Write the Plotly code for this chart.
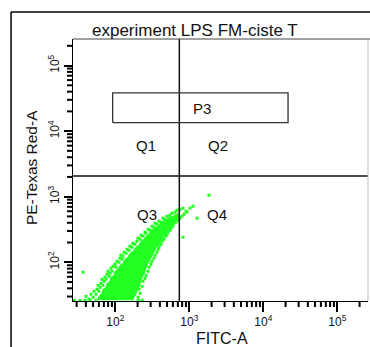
import math
import plotly.graph_objects as go

# ---- Gates -------------------------------------------------------------
quad_fitc = 733          # quadrant split on FITC-A
quad_pe = 2070           # quadrant split on PE-Texas Red-A
p3_fitc = [92, 21600]    # P3 rectangle, FITC-A bounds
p3_pe = [13500, 38300]   # P3 rectangle, PE-Texas Red-A bounds

# ---- Axes (log display, 2^18 full scale) -----------------------------
x_range_log = [1.428, 5.415]
y_range_log = [1.409, 5.405]
tick_vals = [100, 1000, 10000, 100000]
tick_text = ["10<sup>2</sup>", "10<sup>3</sup>", "10<sup>4</sup>", "10<sup>5</sup>"]
minor_tick_vals = [m * 10 ** e for e in range(1, 6) for m in range(2, 10)]

# ---- Events ------------------------------------------------------------
# outline of the saturated high-density core of the population
core_fitc = [58.4, 60.2, 66.1, 68.2, 74.9, 77.3, 84.8, 87.5, 96.0, 99.1, 109,
             116, 127, 135, 148, 158, 173, 190, 209, 223, 244, 260, 285, 303,
             333, 366, 402, 441, 484, 531, 602, 661, 703,
             725, 682, 641, 602, 565, 548, 499, 484, 441, 428, 402, 390, 355,
             344, 323, 313, 294, 285, 268, 260, 252, 244, 230, 223, 216, 209,
             196, 190, 179, 173]
core_pe = [26.3, 30.3, 33.6, 38.7, 41.5, 47.8, 51.3, 59.0, 63.3, 72.9, 78.2,
           90.0, 96.5, 111, 119, 137, 147, 169.5, 182, 209, 224, 249.5, 267.5,
           308, 319, 354.5, 380, 422.5, 437.5, 486, 503.5, 540, 560,
           503.5, 453, 422.5, 380, 354.5, 319, 297.5, 267.5, 249.5, 224, 202,
           182, 169.5, 152.5, 137, 123.5, 111, 100, 90.0, 81.0, 72.9, 65.6,
           59.0, 53.1, 46.2, 41.5, 37.4, 32.5, 29.2, 26.3]

# individual events around the core
fitc_events = [
    # upper-left edge of the population
    40.2, 44.1, 46.9, 50.0, 51.5, 54.8, 56.6, 60.2, 58.4, 62.1, 64.1, 68.2,
    66.1, 70.4, 72.6, 74.9, 77.3, 82.2, 79.7, 84.8, 87.5, 90.2, 93.1, 99.1,
    102, 105, 112, 116, 123, 119, 127, 131, 140, 144, 153, 158,
    168, 173, 185, 196, 203, 216, 223, 237, 252, 260, 277, 294,
    313, 333, 344, 366, 390, 415, 441, 469, 499, 548, 583, 641,
    682, 748, 821,
    # lower-right edge
    203, 216, 209, 230, 237, 252, 260, 277, 285, 303, 313, 333,
    344, 366, 378, 390, 415, 428, 455, 469, 499, 515, 548, 565,
    602, 621, 661, 703, 748, 796, 847, 930,
    # off-scale low and scattered outliers
    27.7, 33.3, 39.0, 45.5, 54.8, 203, 230, 36.6,
    821, 1120, 1274, 1840, 1021, 902,
]
pe_events = [
    30.3, 27.2, 32.5, 29.2, 36.1, 32.5, 38.7, 36.1, 44.6, 41.5, 47.8, 44.6,
    55.0, 51.3, 59.0, 55.0, 65.6, 61.1, 72.9, 67.9, 81.0, 72.9, 86.9, 93.2,
    83.9, 103.6, 100, 115, 111, 128, 123.5, 142, 137, 158, 152.5, 175.5,
    169.5, 195, 188, 209, 232.5, 224, 258, 249.5, 287, 277, 319, 308,
    354.5, 342.5, 394, 380, 422.5, 408, 469.5, 453, 503.5, 522, 560, 580,
    622, 644, 667,
    29.2, 33.6, 38.7, 43.0, 51.3, 57.0, 63.3, 72.9, 83.9, 93.2, 103.6, 115,
    128, 142, 158, 169.5, 188, 209, 224, 249.5, 258, 287, 308, 330.5,
    354.5, 394, 408, 437.5, 469.5, 503.5, 540, 580,
    26.3, 26.3, 26.3, 26.3, 26.3, 26.3, 26.3, 70.4,
    241, 716, 469.5, 1054, 667, 601,
]

GREEN = "#22ff22"
INK = "#111111"
TICK = "#000000"
FONT = "Liberation Sans"

WIDTH, HEIGHT = 370, 347
MARGIN = dict(l=73, r=2, t=39, b=46)
plot_w = WIDTH - MARGIN["l"] - MARGIN["r"]
plot_h = HEIGHT - MARGIN["t"] - MARGIN["b"]

x_lo, x_hi = 10 ** x_range_log[0], 10 ** x_range_log[1]
y_lo, y_hi = 10 ** y_range_log[0], 10 ** y_range_log[1]

fig = go.Figure()

fig.add_trace(go.Scatter(
    x=core_fitc, y=core_pe, mode="lines", fill="toself",
    fillcolor=GREEN, line=dict(color=GREEN, width=1), hoverinfo="skip",
))
fig.add_trace(go.Scatter(
    x=fitc_events, y=pe_events, mode="markers",
    marker=dict(symbol="square", size=3, color=GREEN, line=dict(width=0)),
))

# quadrant lines
fig.add_trace(go.Scatter(
    x=[quad_fitc, quad_fitc], y=[y_lo, y_hi], mode="lines",
    line=dict(color=INK, width=1.5), hoverinfo="skip",
))
fig.add_trace(go.Scatter(
    x=[x_lo, x_hi], y=[quad_pe, quad_pe], mode="lines",
    line=dict(color=INK, width=1.5), hoverinfo="skip",
))
# P3 rectangle gate
fig.add_trace(go.Scatter(
    x=[p3_fitc[0], p3_fitc[1], p3_fitc[1], p3_fitc[0], p3_fitc[0]],
    y=[p3_pe[0], p3_pe[0], p3_pe[1], p3_pe[1], p3_pe[0]],
    mode="lines", line=dict(color="#333333", width=1.3), hoverinfo="skip",
))

# decade ticks come from the axes; 2..9 multiples are added as shapes below
axis_common = dict(
    type="log", showgrid=False, zeroline=False,
    showline=True, linecolor="black", linewidth=1,
    ticks="outside", tickcolor=TICK, tickwidth=2,
    tickmode="array", tickvals=tick_vals, ticktext=tick_text,
    tickfont=dict(family=FONT, size=12, color=INK),
)
fig.update_xaxes(range=x_range_log, ticklen=10, **axis_common)
fig.update_yaxes(range=y_range_log, ticklen=8, tickangle=-90, **axis_common)


def frac(value, rng):
    return (math.log10(value) - rng[0]) / (rng[1] - rng[0])


shapes = [
    # outer frame (top and left edges)
    dict(type="line", xref="paper", yref="paper", x0=-0.21, x1=1.1, y0=1.103, y1=1.103,
         line=dict(color="black", width=1.5)),
    dict(type="line", xref="paper", yref="paper", x0=-0.21, x1=-0.21, y0=1.103, y1=-0.2,
         line=dict(color="black", width=1.5)),
    # plot box top and right edges
    dict(type="line", xref="paper", yref="paper", x0=0, x1=1.01, y0=1, y1=1,
         line=dict(color="#444444", width=1)),
    dict(type="line", xref="paper", yref="paper", x0=1, x1=1, y0=1, y1=0,
         line=dict(color="#bbbbbb", width=1)),
]

# minor tick marks at 2..9 multiples of each decade
for v in minor_tick_vals:
    fx = frac(v, x_range_log)
    if 0 <= fx <= 1:
        shapes.append(dict(type="line", xref="paper", yref="paper",
                           x0=fx, x1=fx, y0=0, y1=-6 / plot_h,
                           line=dict(color=TICK, width=2)))
    fy = frac(v, y_range_log)
    if 0 <= fy <= 1:
        shapes.append(dict(type="line", xref="paper", yref="paper",
                           x0=0, x1=-6 / plot_w, y0=fy, y1=fy,
                           line=dict(color=TICK, width=2)))


def label(text, x, y, size=15, angle=0):
    return dict(text=text, x=x, y=y, xref="paper", yref="paper",
                xanchor="center", yanchor="middle", showarrow=False,
                textangle=angle, font=dict(family=FONT, size=size, color=INK))


annotations = [
    label("experiment LPS FM-ciste T", 0.415, 1.031, size=17),
    label("FITC-A", 0.504, -0.142, size=16),
    label("PE-Texas Red-A", -0.140, 0.51, size=15.5, angle=-90),
    label("P3", 0.436, 0.7355),
    label("Q1", 0.247, 0.595),
    label("Q2", 0.490, 0.595),
    label("Q3", 0.250, 0.331),
    label("Q4", 0.488, 0.331),
]

fig.update_layout(
    width=WIDTH, height=HEIGHT,
    margin=MARGIN,
    paper_bgcolor="white", plot_bgcolor="white",
    showlegend=False,
    shapes=shapes, annotations=annotations,
)

fig.write_html("out.html", config={"displayModeBar": False})
